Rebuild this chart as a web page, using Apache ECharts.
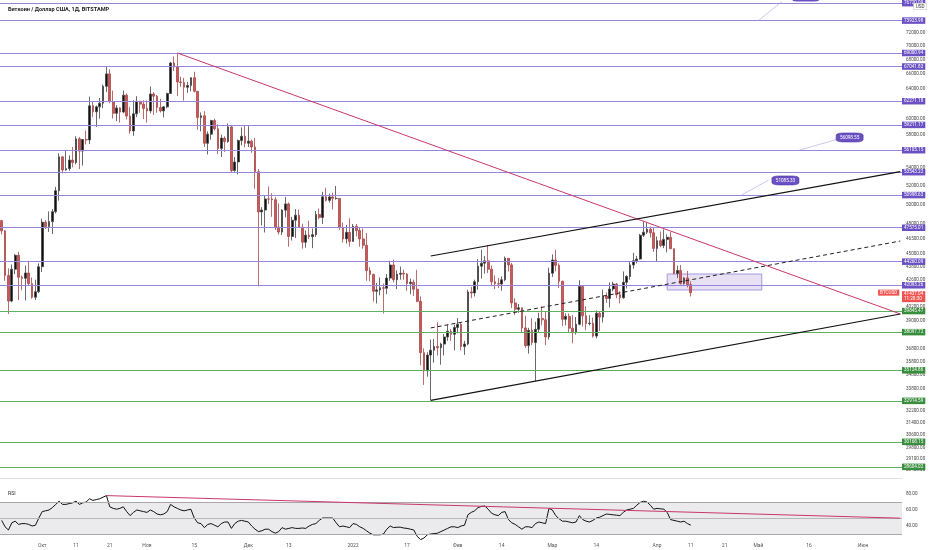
<!DOCTYPE html>
<html>
<head>
<meta charset="utf-8">
<script src="https://cdn.jsdelivr.net/npm/echarts@6/dist/echarts.min.js"></script>
<style>
  html, body { margin: 0; padding: 0; background: #fff; }
  #chart { width: 932px; height: 550px; }
</style>
</head>
<body>
<div id="chart"></div>
<script>
// daily candles, 19 Sep 2021 .. 11 Apr 2022 (BTCUSD, Bitstamp)
var opens = [
  48300,47260,42970,40700,43550,44870,42820,42720,43210,42240,41030,41520,
  43790,48140,47700,48200,49230,51480,55320,53800,53950,54950,54660,57480,56000,57400,57350,61670,60880,61530,62010,64280,66000,62210,60690,61390,60850,63080,60330,58450,60620,62270,61890,
  61320,61000,63230,62940,61450,61000,61530,63310,67550,66970,64880,64800,64150,64400,65470,63590,60160,60370,56940,58060,59760,58730,56300,57570,57150,58960,53730,54720,57270,57800,
  56950,57200,56500,53600,49200,49400,50580,50570,50500,47650,47140,49390,50050,46700,48340,48860,47630,46130,46830,46680,46880,48930,48630,50820,50430,50800,50640,50640,47590,46460,47120,
  46210,47720,47290,46460,45830,43430,43080,41560,41680,41870,41830,42740,43950,42590,43100,43180,43110,42250,42370,41740,40680,36470,35080,36280,36660,36950,36850,37140,37710,38170,37920,
  38480,38740,36950,37150,41500,41410,42410,43840,44120,44340,43560,42410,42240,42200,42590,44580,43960,40540,40000,40120,38440,37020,38250,37260,38330,39220,39110,37710,
  43190,44420,43920,42460,39150,39400,38420,38060,38740,41980,39440,38790,38830,37780,39670,39340,41140,40920,41760,42200,41260,41000,42360,42890,43960,44350,44510,46820,47130,47430,47070,
  45530,46280,45810,46410,46620,45500,43170,43440,42250,42750,42160
];
var closes = [
  47260,42970,40700,43550,44870,42820,42720,43210,42240,41030,41520,43790,
  48140,47700,48200,49230,51480,55320,53800,53950,54950,54660,57480,56000,57400,57350,61670,60880,61530,62010,64280,66000,62210,60690,61390,60850,63080,60330,58450,60620,62270,61890,61320,
  61000,63230,62940,61450,61000,61530,63310,67550,66970,64880,64800,64150,64400,65470,63590,60160,60370,56940,58060,59760,58730,56300,57570,57150,58960,53730,54720,57270,57800,56950,
  57200,56500,53600,49200,49400,50580,50570,50500,47650,47140,49390,50050,46700,48340,48860,47630,46130,46830,46680,46880,48930,48630,50820,50430,50800,50640,50640,47590,46460,47120,46210,
  47720,47290,46460,45830,43430,43080,41560,41680,41870,41830,42740,43950,42590,43100,43180,43110,42250,42370,41740,40680,36470,35080,36280,36660,36950,36850,37140,37710,38170,37920,38480,
  38740,36950,37150,41500,41410,42410,43840,44120,44340,43560,42410,42240,42200,42590,44580,43960,40540,40000,40120,38440,37020,38250,37260,38330,39220,39110,37710,43190,
  44420,43920,42460,39150,39400,38420,38060,38740,41980,39440,38790,38830,37780,39670,39340,41140,40920,41760,42200,41260,41000,42360,42890,43960,44350,44510,46820,47130,47430,47070,45530,
  46280,45810,46410,46620,45500,43170,43440,42250,42750,42160,41437.04
];
var highs = [
  48370,47330,43640,44000,44980,45200,42970,43900,44350,42800,42600,44100,
  48500,48350,49250,49500,51900,55750,55350,56100,55500,56500,57800,57700,57450,58500,62900,62300,61700,62700,64500,67000,66650,63700,61750,61480,63700,63300,61500,62400,62950,62300,62400,
  62400,64250,63500,63100,62600,61600,63400,67700,68500,69000,65600,65450,64900,65500,66300,63600,60800,60970,58400,59850,60000,59300,58000,57800,59400,59200,55300,57400,58900,59200,
  59050,57400,57600,53900,49700,50900,51950,51200,50800,50100,49500,50800,50200,48700,49500,49450,47980,47300,48300,47500,49300,49550,51350,51800,51150,51250,52000,50650,48100,47850,48550,
  47950,47950,47550,47500,47050,43750,43150,42300,42800,42250,43100,44350,44450,43450,43800,43500,43200,42700,42600,43500,41100,36800,36500,37500,37550,38900,37250,37950,38700,38350,38700,
  39250,38850,37400,41700,41950,42600,44500,45400,44800,45850,43900,43000,42750,42900,44750,44600,44150,40950,40450,40150,39450,38450,39250,38950,39700,40250,39850,43700,
  44950,45400,44100,42500,39650,39650,39500,39350,42550,42000,40250,39500,39300,39900,39850,41700,41450,42350,42400,42300,41550,43350,43000,44250,45100,44800,46950,48190,48100,47700,47600,
  46700,47200,47400,46900,47150,45500,43900,43950,42800,43400,42450
];
var lows = [
  46900,42500,39600,40600,43100,40800,41650,40750,42100,40900,40800,41400,
  43300,47450,47150,46950,49050,50400,53400,53700,53700,54100,54450,53900,54300,56800,56850,60200,58950,60000,61350,63500,62000,60000,59700,59500,60700,59900,58100,57850,60200,60750,59950,
  59500,60700,60500,60750,60800,60150,61350,63300,66400,63000,64200,62350,63400,63600,63450,58600,58400,56500,55600,57400,58500,55650,55300,55900,57000,53550,53600,53300,56700,56450,
  56500,55800,51700,42000,47800,47100,50050,48700,47350,46900,46850,48650,45700,46300,46550,47550,45500,45600,46450,45550,46650,48450,47950,50300,50200,49450,50500,47350,46100,46000,45700,
  46200,46700,45700,45500,42500,42450,40650,40500,41200,39650,41300,42500,42350,41750,42600,42600,41600,41300,41150,40600,35500,34050,34650,32950,35700,36250,35550,36250,37400,37400,36650,
  38000,36650,36300,37050,40950,41100,41700,42700,43150,43200,42000,41750,41850,41600,42450,43350,40100,39500,39700,38050,36850,36400,37050,34320,38050,38650,37050,37500,
  42850,43350,41850,38600,38650,38100,37200,37900,38650,38550,38250,38650,37650,37600,38200,38900,40550,40150,41550,40950,40500,40900,41800,42600,43600,44100,44450,46650,46950,46600,45200,
  44250,45650,45550,45150,45450,43100,42750,42150,42150,41900,41100
];
var rsiValues = [
  47,39,35,44,46,42,43,43,42,40,
  41,50,58,59,60,63,67,71,67,67,
  68,69,71,67,69,70,74,72,73,74,
  76,78,64,62,61,62,64,58,53,57,
  60,59,58,57,60,58,55,54,55,58,
  67,64,62,60,59,60,61,50,44,43,
  38,42,43,41,39,43,45,45,37,43,
  46,47,46,45,40,36,33,34,36,36,
  33,31,33,38,36,37,38,37,37,37.5,
  37,40,42,43,47,50,50,50,50,44,
  39,40,39,38,43,42,39,37,34,31,
  29,29,29,30,36,40,38,38.5,38.5,37.5,
  37,36,35,27,23,25,29,30,30.5,31,
  33,35,37,39,39,38,40,41,54,57,
  59,63,64.5,65,61,56,54,53,57,58,
  48,44,42,39,36,39,39,38,43,45,
  44,43,62,60,53,49,46,46,45,44,
  45,53,48,46,45,47,50,51,53,55,
  54.5,54,53.5,53,57,60,61,62,66,69.5,
  71,70,66,61,62,61.5,61,57,48,47,
  46,45,46,43,41
];

var purpleLevels = [76720.09, 73923.98, 69000.94, 67041.83, 62271.18, 59211.17, 56105.15, 53543.22, 50998.63, 47575.01, 44260.09, 42093.26];
var greenLevels = [39845.47, 38097.72, 35124.86, 32914.59, 30168.15, 28604.02];
var priceTicks = [72000, 70000, 68000, 66000, 64000, 60000, 58000, 54000, 52000, 50000, 48000, 46500, 45000, 43800, 42600, 40200, 39000, 36800, 35800, 34800, 33800, 32200, 31400, 30600, 29800, 29100, 28400];
var rsiTicks = [40, 60, 80];
var tickDates = ['2021-10-01','2021-10-11','2021-10-21','2021-11-01','2021-11-15','2021-12-01','2021-12-13','2022-01-01','2022-01-17','2022-02-01','2022-02-14','2022-03-01','2022-03-14','2022-04-01','2022-04-11','2022-04-21','2022-05-01','2022-05-16','2022-06-01'];
var tickTexts = ['Окт','11','21','Ноя','15','Дек','13','2022','17','Фев','14','Мар','14','Апр','11','21','Май','16','Июн'];
var lastPrice = 41437.04;

// categories: every day incl. empty future space on the right
var categories = [];
var startMs = Date.UTC(2021, 8, 19);
for (var k = 0; k < 267; k++) {
  categories.push(new Date(startMs + k * 86400000).toISOString().slice(0, 10));
}
var last = categories[categories.length - 1];

var candles = closes.map(function (c, i) {
  return [opens[i], c, lows[i], highs[i]];
});

var FONT = 'Roboto, "Noto Sans", sans-serif';
var PURPLE = '#9486da', PURPLE_BOX = '#6a50c2';
var GREEN = '#5cb060', GREEN_BOX = '#388e3c';

function levelLine(v, lineColor, boxColor) {
  return {
    yAxis: v,
    lineStyle: { color: lineColor, width: 1, type: 'solid' },
    label: {
      show: true, position: 'end', distance: 0,
      formatter: v.toFixed(2),
      color: '#fff', backgroundColor: boxColor,
      fontSize: 4.6, fontFamily: FONT, padding: [1, 2, 0.5, 2]
    }
  };
}
function segment(c1, p1, c2, p2, style) {
  return [
    { coord: [c1, p1], lineStyle: style, label: { show: false } },
    { coord: [c2, p2] }
  ];
}

var markLines = [];
purpleLevels.forEach(function (v) { markLines.push(levelLine(v, PURPLE, PURPLE_BOX)); });
greenLevels.forEach(function (v) { markLines.push(levelLine(v, GREEN, GREEN_BOX)); });
// trend lines
markLines.push(segment('2021-11-10', 69000, last, 39600, { color: '#c8376e', width: 1, type: 'solid' }));
markLines.push(segment('2022-01-24', 44800, last, 53600, { color: '#111', width: 1.2, type: 'solid' }));
markLines.push(segment('2022-01-24', 32950, last, 39600, { color: '#111', width: 1.2, type: 'solid' }));
markLines.push(segment('2022-01-24', 38440, last, 46250, { color: '#222', width: 1, type: [4, 3] }));
// callout leaders
markLines.push(segment(categories[236], 56105, categories[248], 57500, { color: '#a99fe0', width: 0.6, type: 'solid' }));
markLines.push(segment(categories[219], 50999, categories[227], 52650, { color: '#a99fe0', width: 0.6, type: 'solid' }));
markLines.push(segment(categories[224], 73924, categories[231], 77000, { color: '#a99fe0', width: 0.6, type: 'solid' }));
// last price
markLines.push({
  yAxis: lastPrice,
  lineStyle: { color: 'rgba(0,0,0,0)', width: 0 },
  label: {
    show: true, position: 'end', distance: 0, offset: [0, 4],
    formatter: lastPrice.toFixed(2) + '\n11:28:30',
    color: '#fff', backgroundColor: '#ef5350',
    fontSize: 4.6, lineHeight: 5, fontFamily: FONT, padding: [0.5, 2, 0.5, 2]
  }
});

var option = {
  animation: false,
  backgroundColor: '#fff',
  textStyle: { fontFamily: FONT },
  title: [
    { text: 'Биткоин / Доллар США, 1Д, BITSTAMP', left: 3, top: 2,
      textStyle: { fontSize: 5.6, fontWeight: 'bold', color: '#222', fontFamily: FONT } },
    { text: 'RSI', left: 3, top: 486,
      textStyle: { fontSize: 5.2, fontWeight: 'normal', color: '#333', fontFamily: FONT } }
  ],
  graphic: [{
    type: 'text', right: 5, top: 3, z: 100,
    style: { text: 'USD', fontSize: 4.6, fill: '#333', backgroundColor: '#fff',
      borderColor: '#bbb', borderWidth: 0.5, padding: [0.5, 2], fontFamily: FONT }
  }],
  grid: [
    { left: 0, right: 30, top: 0, height: 478 },
    { left: 0, right: 30, top: 480, height: 60 }
  ],
  xAxis: [
    { type: 'category', gridIndex: 0, data: categories, boundaryGap: true,
      axisLabel: { show: false }, axisTick: { show: false },
      axisLine: { show: true, lineStyle: { color: '#e0e3eb' } }, splitLine: { show: false } },
    { type: 'category', gridIndex: 1, data: categories, boundaryGap: true,
      axisTick: { show: false }, axisLine: { show: false }, splitLine: { show: false },
      axisLabel: {
        margin: 3, fontSize: 5, color: '#555', fontFamily: FONT,
        interval: function (idx, val) { return tickDates.indexOf(val) >= 0; },
        formatter: function (val) { return tickTexts[tickDates.indexOf(val)]; }
      } }
  ],
  yAxis: [
    { type: 'log', logBase: 10, gridIndex: 0, position: 'right', min: 27933, max: 77237,
      axisLine: { show: false }, axisTick: { show: false }, splitLine: { show: false },
      axisLabel: { customValues: priceTicks, margin: 4, fontSize: 4.6, color: '#444', fontFamily: FONT,
        formatter: function (v) { return Number(v).toFixed(2); } } },
    { type: 'value', gridIndex: 1, position: 'right', min: 22.5, max: 97.5,
      axisLine: { show: false }, axisTick: { show: false }, splitLine: { show: false },
      axisLabel: { customValues: rsiTicks, margin: 4, fontSize: 4.6, color: '#444', fontFamily: FONT,
        formatter: function (v) { return Number(v).toFixed(2); } } }
  ],
  series: [
    {
      type: 'candlestick', xAxisIndex: 0, yAxisIndex: 0, data: candles,
      barWidth: '66%',
      itemStyle: { color: '#111', color0: '#cc5858', borderColor: '#444', borderColor0: '#a84848', borderWidth: 0.8 },
      markLine: { symbol: ['none', 'none'], silent: true, data: markLines },
      markArea: {
        silent: true,
        data: [[
          { coord: ['2022-04-04', 43113], itemStyle: { color: 'rgba(126,87,194,0.18)', borderColor: '#a597e0', borderWidth: 1 } },
          { coord: ['2022-05-02', 41674] }
        ]]
      },
      markPoint: {
        silent: true,
        data: [
          { coord: [categories[251], 57650], value: '56098.55', symbol: 'roundRect', symbolSize: [27, 9],
            itemStyle: { color: PURPLE_BOX, borderColor: '#4d36a0', borderWidth: 0.5 },
            label: { show: true, formatter: '56098.55', color: '#fff', fontSize: 4.6, fontFamily: FONT } },
          { coord: [categories[232], 52610], value: '51085.33', symbol: 'roundRect', symbolSize: [27, 9],
            itemStyle: { color: PURPLE_BOX, borderColor: '#4d36a0', borderWidth: 0.5 },
            label: { show: true, formatter: '51085.33', color: '#fff', fontSize: 4.6, fontFamily: FONT } },
          { coord: [categories[238], 77237], value: '', symbol: 'roundRect', symbolSize: [26, 3],
            itemStyle: { color: PURPLE_BOX }, label: { show: false } },
          { coord: [last, lastPrice], value: 'BTCUSD', symbol: 'circle', symbolSize: 0,
            label: { show: true, position: 'left', distance: 1, formatter: 'BTCUSD', color: '#fff',
              backgroundColor: '#ef5350', fontSize: 4.6, fontFamily: FONT, padding: [0.5, 2] } }
        ]
      }
    },
    {
      type: 'line', xAxisIndex: 1, yAxisIndex: 1, data: rsiValues,
      symbol: 'none', lineStyle: { color: '#111', width: 1 },
      markArea: {
        silent: true,
        data: [[{ yAxis: 30, itemStyle: { color: 'rgba(60,60,80,0.10)' } }, { yAxis: 70 }]]
      },
      markLine: {
        symbol: ['none', 'none'], silent: true,
        data: [
          { yAxis: 70, lineStyle: { color: '#a8a8a8', width: 1, type: 'solid' }, label: { show: false } },
          { yAxis: 50, lineStyle: { color: '#b8b8b8', width: 1, type: 'solid' }, label: { show: false } },
          { yAxis: 30, lineStyle: { color: '#a8a8a8', width: 1, type: 'solid' }, label: { show: false } },
          [{ coord: ['2021-10-20', 78], lineStyle: { color: '#c8376e', width: 1, type: 'solid' }, label: { show: false } },
           { coord: [last, 49.8] }]
        ]
      }
    }
  ]
};

var chart = echarts.init(document.getElementById('chart'));
chart.setOption(option);
</script>
</body>
</html>
